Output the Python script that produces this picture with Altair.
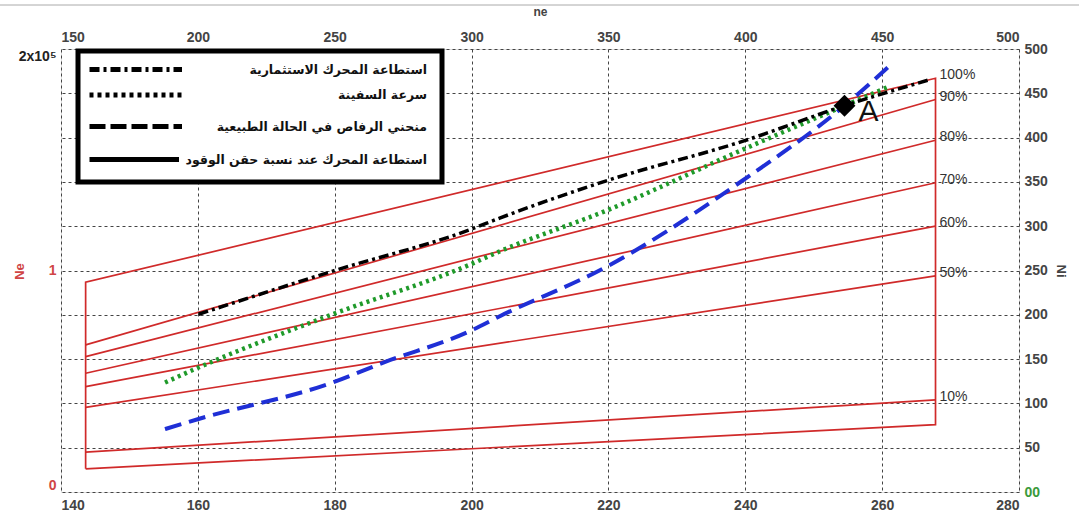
import altair as alt
import pandas as pd

# ---------------- data ----------------
# bottom axis 140..280, right axis Ni 0..500
pct_labels = ["100%", "90%", "80%", "70%", "60%", "50%", "10%"]
red_x_left = 143.6
red_x_right = 267.8
red_left_y = [236.7, 166.0, 152.8, 134.0, 119.0, 95.5, 45.0]
red_right_y = [467.0, 443.0, 397.0, 349.0, 300.0, 244.0, 104.0]
bottom_left_y = 26.2
bottom_right_y = 76.0

cont_x = [160.1, 179.7, 199.8, 204.2, 219.8, 239.8, 254.5, 267.2]
cont_y = [200.6, 249.3, 296.2, 309.4, 351.5, 396.3, 436.0, 466.0]

speed_x = [155.2, 160.1, 179.7, 199.8, 204.2, 219.8, 239.8, 254.5, 260.8]
speed_y = [123.6, 140.5, 200.6, 256.8, 271.9, 317.9, 387.0, 436.0, 457.0]

prop_x = [155.2, 160.1, 179.7, 187.1, 199.8, 204.2, 219.8, 239.5, 254.5, 261.6]
prop_y = [71.0, 82.4, 123.6, 146.0, 181.8, 198.7, 254.5, 351.0, 436.0, 484.6]

point_a = (254.5, 436.0)

bottom_ticks = [140, 160, 180, 200, 220, 240, 260, 280]
right_ticks = [0, 50, 100, 150, 200, 250, 300, 350, 400, 450, 500]
top_ticks = [150, 200, 250, 300, 350, 400, 450, 500]
left_ticks = [0, 100000, 200000]

legend_labels = [
    "استطاعة المحرك الاستثمارية",
    "سرعة السفينة",
    "منحني الرفاص في الحالة الطبيعية",
    "استطاعة المحرك عند نسبة حقن الوقود",
]

# ---------------- geometry ----------------
W, H = 958, 443
FONT = "Liberation Sans"
RED = "#d02a2a"

x_axis = alt.Axis(orient="bottom", values=bottom_ticks, grid=True, gridDash=[3, 3],
                  gridColor="#444", gridWidth=1, ticks=False, domain=False,
                  labelFont=FONT, labelFontSize=14, labelFontWeight="bold",
                  labelColor="#444", labelPadding=6, title=None)
y_axis = alt.Axis(orient="right", values=right_ticks, grid=True, gridDash=[3, 3],
                  gridColor="#444", gridWidth=1, ticks=False, domain=False,
                  labelFont=FONT, labelFontSize=14, labelFontWeight="bold",
                  labelColor={"condition": {"test": "datum.value == 0", "value": "#3a9a3a"},
                              "value": "#444"},
                  labelExpr="datum.value == 0 ? '00' : datum.label",
                  labelPadding=5, title="Ni", titleFont=FONT, titleFontSize=13,
                  titleColor="#444", titlePadding=6)
x_scale = alt.Scale(domain=[140, 280], nice=False, zero=False)
y_scale = alt.Scale(domain=[0, 500], nice=False)


def X(f):
    return alt.X(f, type="quantitative", scale=x_scale, axis=x_axis)


def Y(f):
    return alt.Y(f, type="quantitative", scale=y_scale, axis=y_axis)


# red envelope (closed outline) + inner lines
env_x = [red_x_left, red_x_right, red_x_right, red_x_left, red_x_left]
env_y = [bottom_left_y, bottom_right_y, red_right_y[0], red_left_y[0], bottom_left_y]
env_df = pd.DataFrame({"x": env_x, "y": env_y, "o": list(range(len(env_x)))})
envelope = alt.Chart(env_df).mark_line(color=RED, strokeWidth=1.7).encode(
    x=X("x"), y=Y("y"), order="o:Q")

inner_rows = []
for lab, yl, yr in zip(pct_labels[1:], red_left_y[1:], red_right_y[1:]):
    inner_rows.append({"line": lab, "x": red_x_left, "y": yl})
    inner_rows.append({"line": lab, "x": red_x_right, "y": yr})
inner = alt.Chart(pd.DataFrame(inner_rows)).mark_line(color=RED, strokeWidth=1.7).encode(
    x=X("x"), y=Y("y"), detail="line:N")

lab_df = pd.DataFrame({"t": pct_labels, "x": [red_x_right] * len(pct_labels), "y": red_right_y})
pct_text = alt.Chart(lab_df).mark_text(align="left", baseline="middle", dx=4, dy=-3,
                                       font=FONT, fontSize=14, color="#333").encode(
    x=X("x"), y=Y("y"), text="t:N")

prop = alt.Chart(pd.DataFrame({"x": prop_x, "y": prop_y})).mark_line(
    color="#1f2fd6", strokeWidth=4, strokeDash=[17, 8], interpolate="monotone").encode(
    x=X("x"), y=Y("y"))
speed = alt.Chart(pd.DataFrame({"x": speed_x, "y": speed_y})).mark_line(
    color="#1f9a2a", strokeWidth=4.5, strokeDash=[3, 4], interpolate="monotone").encode(
    x=X("x"), y=Y("y"))
cont = alt.Chart(pd.DataFrame({"x": cont_x, "y": cont_y})).mark_line(
    color="black", strokeWidth=3.5, strokeDash=[10, 4, 3, 4], interpolate="monotone").encode(
    x=X("x"), y=Y("y"))

a_df = pd.DataFrame({"x": [point_a[0]], "y": [point_a[1]], "t": ["A"]})
a_pt = alt.Chart(a_df).mark_point(shape="diamond", filled=True, size=480, color="black",
                                  opacity=1).encode(x=X("x"), y=Y("y"))
a_txt = alt.Chart(a_df).mark_text(align="center", baseline="middle", dx=24, dy=6,
                                  font=FONT, fontSize=30, color="#111").encode(
    x=X("x"), y=Y("y"), text="t:N")

# ---------------- legend (decoration, pixel placement) ----------------
one = pd.DataFrame({"a": [0]})
leg_layers = [
    alt.Chart(one).mark_rect(fill="white", stroke="black", strokeWidth=5).encode(
        x=alt.value(17), x2=alt.value(381), y=alt.value(2), y2=alt.value(133))
]
leg_rows_y = [20.5, 46.0, 77.5, 110.5]
leg_dash = [[10, 4, 3, 4], [4, 4], [16, 5], None]
leg_x2 = [121, 121, 121, 118]
for txt, yy, dash, x2 in zip(legend_labels, leg_rows_y, leg_dash, leg_x2):
    kw = dict(color="black", strokeWidth=5)
    if dash is not None:
        kw["strokeDash"] = dash
    leg_layers.append(alt.Chart(one).mark_rule(**kw).encode(
        x=alt.value(28.5), x2=alt.value(x2), y=alt.value(yy)))
    leg_layers.append(alt.Chart(pd.DataFrame({"t": [txt]})).mark_text(
        align="right", baseline="middle", font="DejaVu Sans", fontSize=12.5,
        fontWeight="bold", color="#111").encode(
        x=alt.value(366), y=alt.value(yy), text="t:N"))

top_line = alt.Chart(one).mark_rule(color="#aaa", strokeWidth=1).encode(
    x=alt.value(-61), x2=alt.value(1018), y=alt.value(-44))

main = alt.layer(envelope, inner, pct_text, prop, speed, cont, a_pt, a_txt,
                 *leg_layers, top_line)

# ---------------- secondary axes: top (ne) and left (Ne) ----------------
aux_df = pd.DataFrame({"ne": [150, 500], "Ne": [0, 200000]})
aux = alt.Chart(aux_df).mark_point(opacity=0).encode(
    x=alt.X("ne:Q", scale=alt.Scale(domain=[150, 500], nice=False, zero=False),
            axis=alt.Axis(orient="top", values=top_ticks, grid=False, ticks=False,
                          domain=False, labelFont=FONT, labelFontSize=14,
                          labelFontWeight="bold", labelColor="#444", labelPadding=5,
                          title="ne", titleFont=FONT, titleFontSize=12,
                          titleColor="#444", titlePadding=12)),
    y=alt.Y("Ne:Q", scale=alt.Scale(domain=[0, 200000], nice=False),
            axis=alt.Axis(orient="left", values=left_ticks, grid=False, ticks=False,
                          domain=False, labelFont=FONT, labelFontSize=14,
                          labelFontWeight="bold", labelFlush=True, labelPadding=5,
                          labelColor={"condition": {"test": "datum.value < 150000",
                                                    "value": "#d04545"},
                                      "value": "#222"},
                          labelExpr="datum.value == 0 ? '0' : (datum.value == 100000 ? '1' : '2x10⁵')",
                          title="Ne", titleFont=FONT, titleFontSize=13,
                          titleColor="#d04545", titleX=-42, titleY=222,
                          titleAngle=270, titleAlign="center", titleBaseline="middle")),
)

chart = alt.layer(main, aux).resolve_scale(x="independent", y="independent").properties(
    width=W, height=H,
    autosize=alt.AutoSizeParams(type="none"),
    padding={"left": 61, "top": 49, "right": 60, "bottom": 33},
).configure_view(stroke="#333", strokeWidth=1.3).configure(background="white")

chart.save("out.html", embed_options={"renderer": "svg", "actions": False})
